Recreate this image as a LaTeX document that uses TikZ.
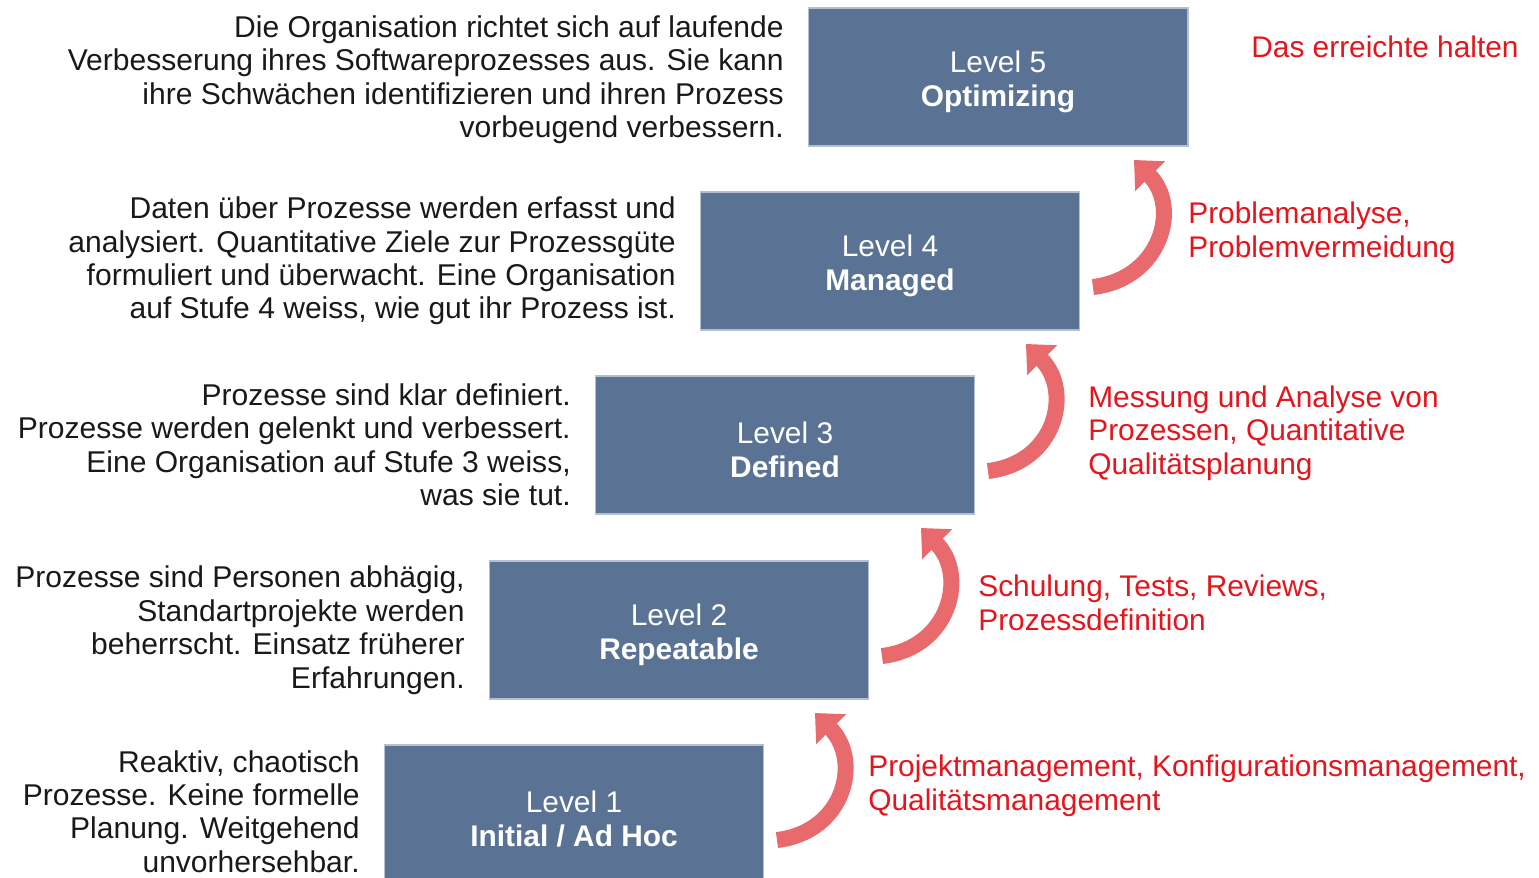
\documentclass[tikz,border=0pt]{standalone}
\usepackage{fontspec}
\setmainfont{Liberation Sans}
\usepackage{tikz}
\usetikzlibrary{arrows.meta, positioning}

\definecolor{boxblue}{HTML}{5A7394}
\definecolor{notered}{HTML}{E3161E}
\definecolor{arrowred}{HTML}{E96A6C}

\newcommand{\lvltop}{\rule{0pt}{0.64cm}}

\begin{document}
\begin{tikzpicture}[x=0.02cm, y=-0.02cm,
  level/.style = {fill=boxblue, draw=boxblue!45!white, line width=0.6pt,
    minimum width=7.6cm, minimum height=2.76cm, inner sep=0pt, outer sep=0pt,
    text=white, align=center, font=\fontsize{17}{19.3}\selectfont},
  desc/.style = {align=right, inner sep=0pt, text=black!90,
    font=\fontsize{17.1}{19.06}\selectfont},
  note/.style = {align=left, inner sep=0pt, anchor=west, text=notered,
    font=\fontsize{17}{19.06}\selectfont},
  stepup/.style = {draw=arrowred, line width=0.32cm,
    -{Triangle[width=0.82cm, length=0.46cm]}}]
  \clip (0,0) rectangle (1539,878);

  % the five levels
  \node[level] (l1) at (574,814) {\lvltop Level 1\\ \textbf{Initial / Ad Hoc}};
  \node[level] (l2) at (679,630) {\lvltop Level 2\\ \textbf{Repeatable}};
  \node[level] (l3) at (785,445) {\lvltop Level 3\\ \textbf{Defined}};
  \node[level] (l4) at (890,261) {\lvltop Level 4\\ \textbf{Managed}};
  \node[level] (l5) at (998,77) {\lvltop Level 5\\ \textbf{Optimizing}};

  % what each level means
  \node[desc, left=0.48cm of l1, yshift=0.05cm] (d1) {Reaktiv, chaotisch\\ Prozesse. Keine formelle\\ Planung. Weitgehend\\ unvorhersehbar.};
  \node[desc, left=0.48cm of l2] (d2) {Prozesse sind Personen abhägig,\\ Standartprojekte werden\\ beherrscht. Einsatz früherer\\ Erfahrungen.};
  \node[desc, left=0.48cm of l3] (d3) {Prozesse sind klar definiert.\\ Prozesse werden gelenkt und verbessert.\\ Eine Organisation auf Stufe 3 weiss,\\ was sie tut.};
  \node[desc, left=0.48cm of l4] (d4) {Daten über Prozesse werden erfasst und\\ analysiert. Quantitative Ziele zur Prozessgüte\\ formuliert und überwacht. Eine Organisation\\ auf Stufe 4 weiss, wie gut ihr Prozess ist.};
  \node[desc, left=0.48cm of l5, yshift=-0.05cm] (d5) {Die Organisation richtet sich auf laufende\\ Verbesserung ihres Softwareprozesses aus. Sie kann\\ ihre Schwächen identifizieren und ihren Prozess\\ vorbeugend verbessern.};

  % steps up
  \draw[stepup] ([shift={(13,95)}]l1.north east) .. controls +(68,-8) and +(47,47) .. ([shift={(-54,14)}]l2.south east);
  \draw[stepup] ([shift={(13,95)}]l2.north east) .. controls +(68,-8) and +(47,47) .. ([shift={(-54,14)}]l3.south east);
  \draw[stepup] ([shift={(13,95)}]l3.north east) .. controls +(68,-8) and +(47,47) .. ([shift={(-54,14)}]l4.south east);
  \draw[stepup] ([shift={(13,95)}]l4.north east) .. controls +(68,-8) and +(47,47) .. ([shift={(-54,14)}]l5.south east);

  \node[note] (n1) at (868,786) {Projektmanagement, Konfigurationsmanagement,\\ Qualitätsmanagement};
  \node[note] (n2) at (978,603) {Schulung, Tests, Reviews,\\ Prozessdefinition};
  \node[note] (n3) at (1088,433) {Messung und Analyse von\\ Prozessen, Quantitative\\ Qualitätsplanung};
  \node[note] (n4) at (1188,233) {Problemanalyse,\\ Problemvermeidung};
  \node[note] (n5) at (1251,47) {Das erreichte halten};
\end{tikzpicture}
\end{document}
